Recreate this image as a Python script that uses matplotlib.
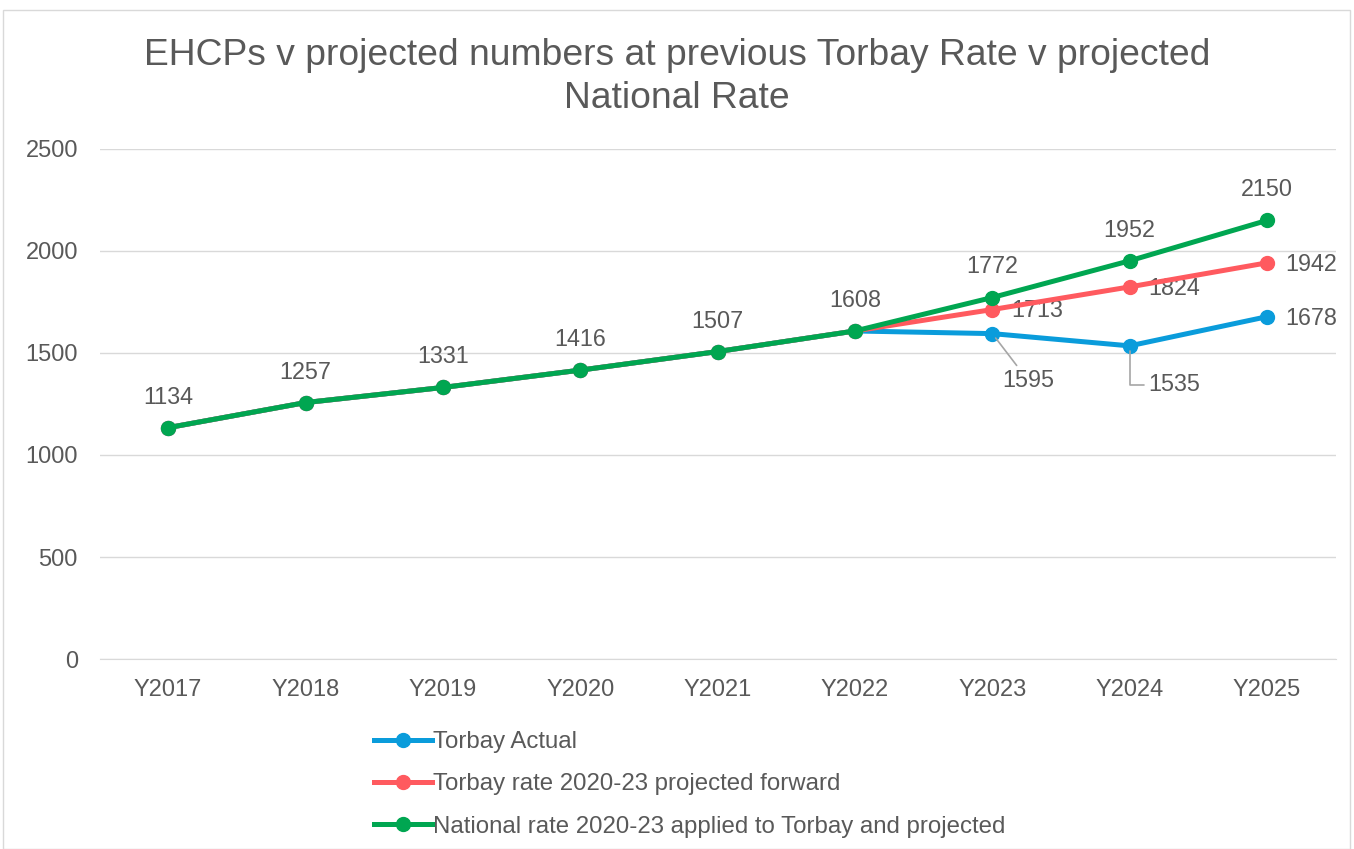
import matplotlib
matplotlib.use("Agg")
import matplotlib.pyplot as plt
from matplotlib.lines import Line2D
from matplotlib.patches import Rectangle
import numpy as np

plt.rcParams['font.family'] = ['Liberation Sans', 'DejaVu Sans']

categories = ["Y2017", "Y2018", "Y2019", "Y2020", "Y2021", "Y2022", "Y2023", "Y2024", "Y2025"]
torbay_actual = [1134, 1257, 1331, 1416, 1507, 1608, 1595, 1535, 1678]
torbay_rate = [1134, 1257, 1331, 1416, 1507, 1608, 1713, 1824, 1942]
national_rate = [1134, 1257, 1331, 1416, 1507, 1608, 1772, 1952, 2150]
series_names = ["Torbay Actual", "Torbay rate 2020-23 projected forward",
                "National rate 2020-23 applied to Torbay and projected"]
title = "EHCPs v projected numbers at previous Torbay Rate v projected\nNational Rate"

BLUE = "#0A9CDB"
RED = "#FF5A5F"
GREEN = "#00A651"
TXT = "#595959"
GRID = "#D9D9D9"

fig = plt.figure(figsize=(13.54, 8.49), dpi=100)
fig.patches.append(Rectangle((3/1354, 0), 1347/1354, 1 - 10/849, transform=fig.transFigure,
                             fill=False, edgecolor="#D9D9D9", linewidth=1.0))
ax = fig.add_axes([99.5/1354, 1 - 659/849, (1335.7 - 99.5)/1354, (659 - 149)/849])

x = np.arange(len(categories))
lw = 3.6
ms = 10
ax.plot(x, torbay_actual, color=BLUE, lw=lw, marker='o', ms=ms, zorder=3, solid_capstyle='round')
ax.plot(x, torbay_rate, color=RED, lw=lw, marker='o', ms=ms, zorder=4, solid_capstyle='round')
ax.plot(x, national_rate, color=GREEN, lw=lw, marker='o', ms=ms, zorder=5, solid_capstyle='round')

ax.set_xlim(-0.5, len(categories) - 0.5)
ax.set_ylim(0, 2500)
ax.set_yticks(np.arange(0, 2501, 500))
ax.set_xticks(x)
ax.set_xticklabels(categories)
ax.grid(axis='y', color=GRID, lw=1.0)
ax.set_axisbelow(True)
for s in ['top', 'right', 'left']:
    ax.spines[s].set_visible(False)
ax.spines['bottom'].set_color(GRID)
ax.tick_params(axis='both', length=0, colors=TXT, labelsize=17)
ax.tick_params(axis='x', pad=14.5)
ax.tick_params(axis='y', pad=15.5)

fs = 16.8
# shared / green labels above
for i in range(len(categories)):
    v = national_rate[i]
    ax.annotate(str(v), (i, v), xytext=(0, 22), textcoords='offset points',
                ha='center', va='center', fontsize=fs, color=TXT)
# red labels to the right (projected part)
for i in range(6, len(categories)):
    v = torbay_rate[i]
    ax.annotate(str(v), (i, v), xytext=(32, -1), textcoords='offset points',
                ha='center', va='center', fontsize=fs, color=TXT)
# blue labels
ax.annotate(str(torbay_actual[8]), (8, torbay_actual[8]), xytext=(32, -1), textcoords='offset points',
            ha='center', va='center', fontsize=fs, color=TXT)
ax.annotate(str(torbay_actual[6]), (6, torbay_actual[6]), xytext=(26, -34), textcoords='offset points',
            ha='center', va='center', fontsize=fs, color=TXT,
            arrowprops=dict(arrowstyle='-', color='#A6A6A6', lw=1.2, shrinkA=1, shrinkB=4))
ax.annotate(str(torbay_actual[7]), (7, torbay_actual[7]), xytext=(32, -28), textcoords='offset points',
            ha='center', va='center', fontsize=fs, color=TXT,
            arrowprops=dict(arrowstyle='-', color='#A6A6A6', lw=1.2, shrinkA=1, shrinkB=4,
                            connectionstyle='angle,angleA=0,angleB=90,rad=0'))

fig.text(0.5, 1 - 77/849, title, ha='center', va='center', fontsize=26.8, color=TXT, linespacing=1.26)

handles = [Line2D([0], [0], color=c, lw=lw, marker='o', ms=ms) for c in (BLUE, RED, GREEN)]
fig.legend(handles, series_names, loc='upper left', bbox_to_anchor=(374/1354, 1 - 731/849),
           frameon=False, fontsize=17.3, labelcolor=TXT, handlelength=2.4, handletextpad=0.05,
           labelspacing=0.85, borderaxespad=0, borderpad=0)

fig.savefig("out.png", dpi=100)
